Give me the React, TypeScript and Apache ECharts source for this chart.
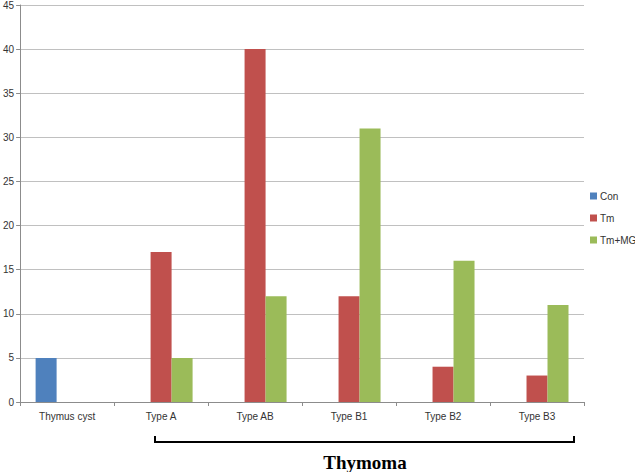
import React, { useEffect, useRef } from "react";
import * as echarts from "echarts";

const categories = ["Thymus cyst", "Type A", "Type AB", "Type B1", "Type B2", "Type B3"];
const conValues = [5, null, null, null, null, null];
const tmValues = [null, 17, 40, 12, 4, 3];
const tmMgValues = [null, 5, 12, 31, 16, 11];
const seriesNames = ["Con", "Tm", "Tm+MG"];
const bracketLabel = "Thymoma";

export default function App() {
  const ref = useRef<HTMLDivElement>(null);
  useEffect(() => {
    document.body.style.margin = "0";
    const chart = echarts.init(ref.current!, null, { renderer: "svg" });
    const font = "'Liberation Sans', 'Open Sans', sans-serif";
    chart.setOption({
      animation: false,
      backgroundColor: "#ffffff",
      grid: { left: 20, right: 51, top: 5, bottom: 70, containLabel: false },
      legend: {
        orient: "vertical",
        left: 588,
        top: 189,
        width: 47,
        padding: 2,
        itemWidth: 7,
        itemHeight: 7,
        itemGap: 12,
        icon: "rect",
        textStyle: { fontFamily: font, fontSize: 10, color: "#333", padding: [0, 0, 0, -2] },
        data: seriesNames,
      },
      xAxis: {
        type: "category",
        data: categories,
        axisLine: { lineStyle: { color: "#8c8c8c" } },
        axisTick: { show: true, length: 4, lineStyle: { color: "#8c8c8c" } },
        axisLabel: { fontFamily: font, fontSize: 10, color: "#333", margin: 9 },
      },
      yAxis: {
        type: "value",
        min: 0,
        max: 45,
        interval: 5,
        axisLine: { show: true, lineStyle: { color: "#8c8c8c" } },
        axisTick: { show: true, length: 4, lineStyle: { color: "#8c8c8c" } },
        axisLabel: { fontFamily: font, fontSize: 10, color: "#333", margin: 6 },
        splitLine: { lineStyle: { color: "#c0c0c0" } },
      },
      series: [
        { name: seriesNames[0], type: "bar", data: conValues, barWidth: 21, barGap: "0%", itemStyle: { color: "#4F81BD" } },
        { name: seriesNames[1], type: "bar", data: tmValues, barWidth: 21, barGap: "0%", itemStyle: { color: "#C0504D" } },
        { name: seriesNames[2], type: "bar", data: tmMgValues, barWidth: 21, barGap: "0%", itemStyle: { color: "#9BBB59" } },
      ],
      graphic: [
        {
          type: "polyline",
          shape: { points: [[155, 436], [155, 442], [574, 442], [574, 436]] },
          style: { stroke: "#000", lineWidth: 2, fill: null },
        },
        {
          type: "text",
          x: 365,
          y: 462,
          style: {
            text: bracketLabel,
            fontFamily: "'Liberation Serif', 'DejaVu Serif', serif",
            fontWeight: "bold",
            fontSize: 19,
            fill: "#000",
            align: "center",
            verticalAlign: "middle",
          },
        },
      ],
    });
    return () => chart.dispose();
  }, []);
  return <div ref={ref} style={{ width: 635, height: 472 }} />;
}
